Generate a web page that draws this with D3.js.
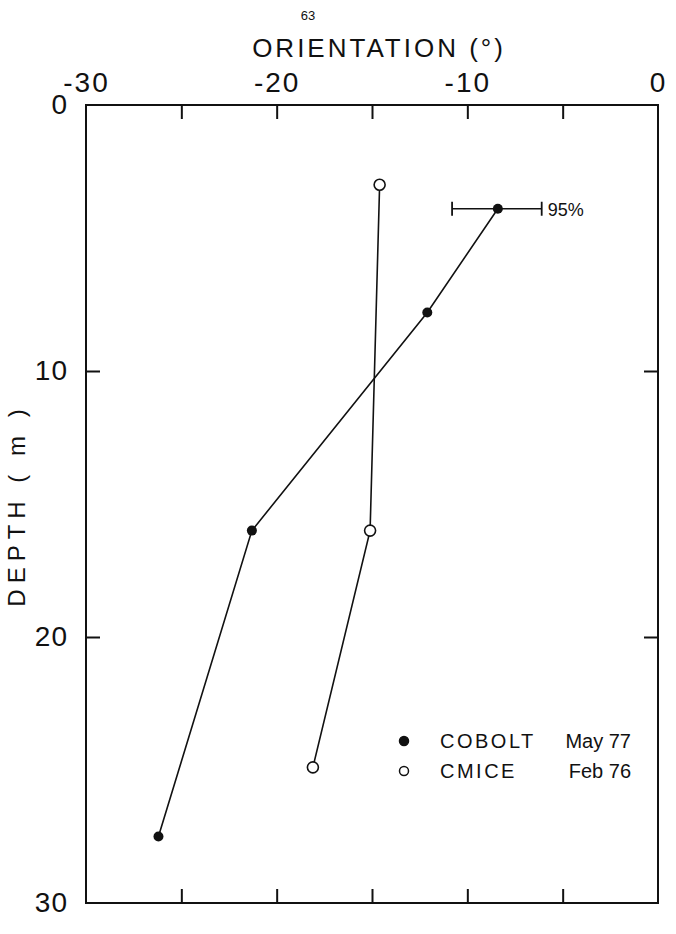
<!doctype html>
<html lang="en">
<head>
  <style>
    body { margin: 0; background: #fff; }
    text { font-family: "Liberation Sans", sans-serif; fill: #111; }
    .frame { fill: none; stroke: #111; stroke-width: 2px; }
    .line { fill: none; stroke: #111; stroke-width: 1.6px; }
    .tick line { stroke: #111; stroke-width: 2px; }
  </style>
  <script src="https://d3js.org/d3.v7.min.js"></script>
</head>
<body>
  <script>
    // orientation (deg) vs depth (m)
    const cobolt = [
      { x: -8.4, y: 3.9 },
      { x: -12.1, y: 7.8 },
      { x: -21.3, y: 16.0 },
      { x: -26.2, y: 27.5 }
    ];
    const cmice = [
      { x: -14.6, y: 3.0 },
      { x: -15.1, y: 16.0 },
      { x: -18.1, y: 24.9 }
    ];
    const errorBar = { x: -8.4, y: 3.9, lo: -10.8, hi: -6.1, label: "95%" };
    const xLabelTicks = [-30, -20, -10, 0];
    const xMinorTicks = [-25, -20, -15, -10, -5];
    const yLabelTicks = [0, 10, 20, 30];
    const yMinorTicks = [10, 20];
    const legendItems = [
      { name: "COBOLT", date: "May 77", filled: true },
      { name: "CMICE", date: "Feb 76", filled: false }
    ];

    const W = 676, H = 934;
    const plot = { left: 86, right: 658, top: 105, bottom: 903 };

    const svg = d3.select("body").append("svg")
      .attr("width", W)
      .attr("height", H);

    const x = d3.scaleLinear().domain([-30, 0]).range([plot.left, plot.right]);
    const y = d3.scaleLinear().domain([0, 30]).range([plot.top, plot.bottom]);

    // page number
    svg.append("text")
      .attr("x", 308).attr("y", 20)
      .attr("text-anchor", "middle")
      .style("font-size", "13px")
      .text("63");

    // frame
    svg.append("rect")
      .attr("class", "frame")
      .attr("x", plot.left).attr("y", plot.top)
      .attr("width", plot.right - plot.left).attr("height", plot.bottom - plot.top);

    // inner ticks on all sides
    svg.append("g")
      .attr("transform", `translate(0,${plot.top})`)
      .call(d3.axisTop(x).tickValues(xMinorTicks).tickSize(-14).tickFormat(""))
      .call(g => g.select(".domain").remove());
    svg.append("g")
      .attr("transform", `translate(0,${plot.bottom})`)
      .call(d3.axisBottom(x).tickValues(xMinorTicks).tickSize(-14).tickFormat(""))
      .call(g => g.select(".domain").remove());
    svg.append("g")
      .attr("transform", `translate(${plot.left},0)`)
      .call(d3.axisLeft(y).tickValues(yMinorTicks).tickSize(-14).tickFormat(""))
      .call(g => g.select(".domain").remove());
    svg.append("g")
      .attr("transform", `translate(${plot.right},0)`)
      .call(d3.axisRight(y).tickValues(yMinorTicks).tickSize(-14).tickFormat(""))
      .call(g => g.select(".domain").remove());

    // tick labels
    const xAx = svg.append("g")
      .attr("transform", `translate(0,${plot.top})`)
      .call(d3.axisTop(x).tickValues(xLabelTicks).tickSize(0).tickPadding(13).tickFormat(d => String(d)));
    xAx.select(".domain").remove();
    xAx.selectAll("text")
      .style("font-size", "28px")
      .style("letter-spacing", "2px")
      .attr("font-family", null);

    const yAx = svg.append("g")
      .attr("transform", `translate(${plot.left},0)`)
      .call(d3.axisLeft(y).tickValues(yLabelTicks).tickSize(0).tickPadding(18).tickFormat(d => String(d)));
    yAx.select(".domain").remove();
    yAx.selectAll("text")
      .style("font-size", "28px")
      .style("letter-spacing", "1px")
      .attr("font-family", null);

    // axis titles
    svg.append("text")
      .attr("x", 379).attr("y", 57)
      .attr("text-anchor", "middle")
      .style("font-size", "26px")
      .style("letter-spacing", "3px")
      .text("ORIENTATION  (°)");
    svg.append("text")
      .attr("transform", `translate(25,505) rotate(-90)`)
      .attr("text-anchor", "middle")
      .style("font-size", "24px")
      .style("letter-spacing", "6px")
      .text("DEPTH  ( m )");

    const line = d3.line().x(d => x(d.x)).y(d => y(d.y));

    // error bar
    const eb = svg.append("g");
    eb.append("line")
      .attr("x1", x(errorBar.lo)).attr("x2", x(errorBar.hi))
      .attr("y1", y(errorBar.y)).attr("y2", y(errorBar.y))
      .attr("stroke", "#111").attr("stroke-width", 1.4);
    [errorBar.lo, errorBar.hi].forEach(v => {
      eb.append("line")
        .attr("x1", x(v)).attr("x2", x(v))
        .attr("y1", y(errorBar.y) - 7).attr("y2", y(errorBar.y) + 7)
        .attr("stroke", "#111").attr("stroke-width", 1.8);
    });
    eb.append("text")
      .attr("x", x(errorBar.hi) + 6).attr("y", y(errorBar.y) + 7)
      .style("font-size", "18px")
      .text(errorBar.label);

    // series
    svg.append("path").datum(cobolt).attr("class", "line").attr("d", line);
    svg.append("path").datum(cmice).attr("class", "line").attr("d", line);

    svg.selectAll(".cobolt").data(cobolt).join("circle")
      .attr("class", "cobolt")
      .attr("cx", d => x(d.x)).attr("cy", d => y(d.y))
      .attr("r", 5).attr("fill", "#111");
    svg.selectAll(".cmice").data(cmice).join("circle")
      .attr("class", "cmice")
      .attr("cx", d => x(d.x)).attr("cy", d => y(d.y))
      .attr("r", 5.5).attr("fill", "#fff")
      .attr("stroke", "#111").attr("stroke-width", 1.6);

    // legend
    const lg = svg.append("g").attr("transform", "translate(404,741)");
    legendItems.forEach((d, i) => {
      const row = lg.append("g").attr("transform", `translate(0,${i * 30})`);
      row.append("circle")
        .attr("r", 4.5)
        .attr("fill", d.filled ? "#111" : "#fff")
        .attr("stroke", "#111").attr("stroke-width", 1.5);
      row.append("text")
        .attr("x", 36).attr("y", 7)
        .style("font-size", "20px")
        .style("letter-spacing", "2.5px")
        .text(d.name);
      row.append("text")
        .attr("x", 227).attr("y", 7)
        .attr("text-anchor", "end")
        .style("font-size", "20px")
        .text(d.date);
    });
  </script>
</body>
</html>
